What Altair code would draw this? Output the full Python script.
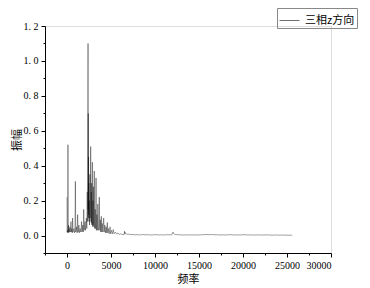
import altair as alt
import pandas as pd

series_name = "三相z方向"

# (frequency, amplitude)
low_band = [
    (0, 0.22), (15, 0.02), (40, 0.03), (80, 0.015), (110, 0.52), (140, 0.02), (170, 0.06),
    (200, 0.015), (230, 0.04), (270, 0.02), (330, 0.05), (370, 0.02), (410, 0.03), (450, 0.08),
    (490, 0.02), (540, 0.04), (600, 0.015), (640, 0.10), (680, 0.02), (740, 0.03), (800, 0.04),
    (850, 0.015), (910, 0.03), (950, 0.31), (990, 0.02), (1040, 0.03), (1100, 0.05),
    (1150, 0.015), (1210, 0.12), (1260, 0.02), (1310, 0.03), (1350, 0.06), (1400, 0.015),
    (1450, 0.03), (1500, 0.04), (1560, 0.02), (1610, 0.03), (1650, 0.08), (1700, 0.02),
    (1750, 0.03), (1800, 0.06), (1850, 0.02), (1900, 0.15), (1950, 0.03), (2000, 0.05),
    (2050, 0.08), (2100, 0.03), (2150, 0.06), (2200, 0.10), (2250, 0.04),
]
main_band = [
    (2300, 0.25), (2340, 0.08), (2370, 0.55), (2390, 1.10), (2405, 0.15), (2420, 0.70),
    (2435, 0.10), (2450, 0.45), (2465, 0.12), (2480, 0.30), (2500, 0.08), (2530, 0.20),
    (2560, 0.06), (2600, 0.35), (2630, 0.10), (2660, 0.15), (2690, 0.51), (2720, 0.08),
    (2750, 0.25), (2780, 0.07), (2800, 0.30), (2830, 0.06), (2860, 0.12), (2880, 0.42),
    (2910, 0.05), (2950, 0.20), (2980, 0.06), (3000, 0.28), (3040, 0.05), (3070, 0.10),
    (3100, 0.37), (3140, 0.04), (3170, 0.09), (3200, 0.15), (3240, 0.04), (3270, 0.08),
    (3300, 0.33), (3340, 0.03), (3370, 0.07), (3400, 0.12), (3440, 0.03), (3470, 0.06),
    (3500, 0.18), (3560, 0.03), (3620, 0.05), (3670, 0.22), (3720, 0.03), (3780, 0.09),
    (3830, 0.02), (3900, 0.11), (3950, 0.02), (4000, 0.07), (4080, 0.02), (4170, 0.10),
    (4230, 0.02), (4300, 0.06), (4380, 0.015), (4450, 0.05), (4520, 0.015), (4580, 0.075),
    (4640, 0.015), (4700, 0.04), (4800, 0.01), (4890, 0.05), (4960, 0.01), (5050, 0.03),
    (5150, 0.01), (5260, 0.035), (5350, 0.01), (5500, 0.02), (5650, 0.008), (5800, 0.015),
    (5950, 0.006), (6100, 0.01), (6300, 0.006), (6500, 0.005), (6530, 0.025), (6560, 0.012),
    (6600, 0.018), (6650, 0.01), (6700, 0.012), (6850, 0.007), (7000, 0.008),
]
tail_band = [
    (7250, 0.005), (7500, 0.006), (7750, 0.004), (8000, 0.005), (8300, 0.003), (8600, 0.006),
    (8900, 0.004), (9200, 0.005), (9500, 0.003), (9800, 0.004), (10100, 0.005), (10400, 0.003),
    (10700, 0.004), (11000, 0.003), (11300, 0.005), (11600, 0.004), (11900, 0.004),
    (12050, 0.02), (12100, 0.012), (12200, 0.008), (12350, 0.006), (12500, 0.005),
    (12800, 0.004), (13100, 0.003), (13400, 0.004), (13700, 0.003), (14000, 0.004),
    (14300, 0.003), (14600, 0.004), (14900, 0.003), (15200, 0.004), (15500, 0.005),
    (15800, 0.006), (16100, 0.005), (16400, 0.006), (16700, 0.004), (17000, 0.005),
    (17300, 0.003), (17600, 0.004), (17900, 0.003), (18200, 0.004), (18500, 0.005),
    (18800, 0.004), (19100, 0.003), (19400, 0.004), (19700, 0.003), (20000, 0.005),
    (20300, 0.004), (20600, 0.003), (20900, 0.004), (21200, 0.003), (21500, 0.003),
    (21800, 0.004), (22100, 0.003), (22400, 0.003), (22700, 0.004), (23000, 0.003),
    (23300, 0.002), (23600, 0.003), (23900, 0.003), (24200, 0.002), (24500, 0.003),
    (24800, 0.002), (25100, 0.002), (25400, 0.002), (25600, 0.002),
]

x_major = [0, 5000, 10000, 15000, 20000, 25000, 30000]
x_minor = [-2500, 2500, 7500, 12500, 17500, 22500, 27500]
y_major = [0.0, 0.2, 0.4, 0.6, 0.8, 1.0, 1.2]
y_minor = [-0.1, 0.1, 0.3, 0.5, 0.7, 0.9, 1.1]

points = low_band + main_band + tail_band
df = pd.DataFrame(points, columns=["频率", "振幅"])
df["series"] = series_name
df["order"] = range(len(df))

num_font = "Liberation Serif"
cjk_font = "Noto Sans CJK SC"

xscale = alt.Scale(domain=[-2500, 30000], nice=False, zero=False)
yscale = alt.Scale(domain=[-0.1, 1.2], nice=False, zero=False)

line = alt.Chart(df).mark_line(strokeWidth=0.5, opacity=0.75, interpolate="linear").encode(
    x=alt.X("频率:Q", scale=xscale,
            axis=alt.Axis(values=x_major, format="d", title="频率", grid=False,
                          tickSize=4, tickColor="black", domainColor="black",
                          labelFont=num_font, labelFontSize=10, labelColor="black",
                          titleFont=cjk_font, titleFontSize=11, titleFontWeight="normal",
                          titleColor="black", titlePadding=3, labelPadding=3)),
    y=alt.Y("振幅:Q", scale=yscale,
            axis=alt.Axis(values=y_major, format=".1f", title="振幅", grid=False,
                          labelExpr="replace(datum.label, '.', '. ')",
                          tickSize=4, tickColor="black", domainColor="black",
                          labelFont=num_font, labelFontSize=10, labelColor="black",
                          titleFont=cjk_font, titleFontSize=11, titleFontWeight="normal",
                          titleColor="black", titlePadding=1, labelPadding=3)),
    order="order:Q",
    color=alt.Color("series:N", scale=alt.Scale(range=["black"]),
                    legend=alt.Legend(title=None, orient="none", legendX=232, legendY=-18,
                                      strokeColor="#888", padding=2,
                                      symbolType="stroke", symbolSize=400,
                                      symbolStrokeWidth=0.7, symbolOpacity=0.8,
                                      labelOffset=5, labelFont=cjk_font,
                                      labelFontSize=11, labelColor="black")),
)

minor = alt.Chart(df).mark_point(opacity=0).encode(
    x=alt.X("频率:Q", scale=xscale,
            axis=alt.Axis(values=x_minor, labels=False, title=None, grid=False,
                          tickSize=2, tickColor="black", domain=False, orient="bottom")),
    y=alt.Y("振幅:Q", scale=yscale,
            axis=alt.Axis(values=y_minor, labels=False, title=None, grid=False,
                          tickSize=2, tickColor="black", domain=False, orient="left")),
)

chart = alt.layer(line, minor).resolve_axis(x="independent", y="independent").properties(
    width=286, height=227,
    autosize=alt.AutoSizeParams(type="none"),
    padding={"left": 37, "top": 18, "right": 31, "bottom": 32},
).configure_view(stroke=None).configure(background="white")

chart.save("out.html", embed_options={"renderer": "svg", "actions": False})
